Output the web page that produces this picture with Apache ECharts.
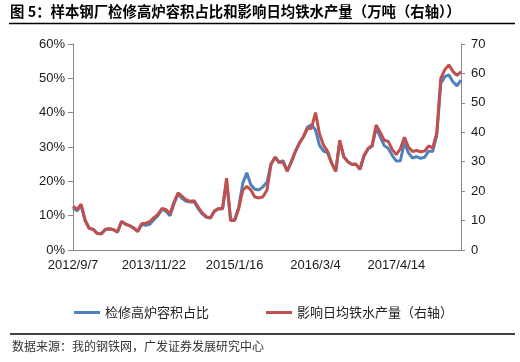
<!DOCTYPE html>
<html>
<head>
<meta charset="utf-8">
<script src="https://cdn.jsdelivr.net/npm/echarts@6/dist/echarts.min.js"></script>
<style>
html,body{margin:0;padding:0;background:#fff;}
#chart{width:520px;height:362px;}
</style>
</head>
<body>
<div id="chart"></div>
<script>
// Tick labels shown on the x axis (every 20th category)
const tickDates = ['2012/9/7', '2013/11/22', '2015/1/16', '2016/3/4', '2017/4/14'];
const pointsPerTick = 20;
const lastSegmentPoints = 17;

// 检修高炉容积占比 (%)  — left axis
const capacityShare = [
  12.2, 11.4, 13.0, 8.5, 6.3, 6.0, 4.8, 4.7, 6.0, 6.2,
  5.9, 5.2, 8.3, 7.5, 7.1, 6.4, 5.4, 7.4, 7.2, 7.5,
  8.8, 10.0, 11.8, 11.3, 10.0, 13.5, 16.4, 15.0, 14.2, 14.0,
  14.0, 12.0, 10.5, 9.5, 9.3, 11.2, 12.0, 12.0, 20.0, 8.8,
  8.8, 12.5, 19.4, 22.5, 19.0, 17.7, 17.5, 18.4, 19.8, 25.0,
  27.0, 25.5, 26.0, 23.0, 25.6, 28.6, 31.1, 33.0, 35.8, 36.5,
  35.0, 30.5, 28.8, 28.3, 25.3, 22.9, 31.5, 27.2, 25.7, 24.9,
  25.0, 23.5, 27.3, 29.4, 30.2, 35.5, 33.0, 30.4, 29.6, 27.5,
  25.9, 26.0, 31.3, 28.3, 26.8, 27.2, 26.7, 27.0, 28.8, 28.7,
  33.3, 48.5, 50.5, 51.0, 49.0, 47.8, 49.5
];

// 影响日均铁水产量 (万吨) — right axis
const ironOutput = [
  14.9, 13.7, 15.6, 10.2, 7.4, 7.0, 5.6, 5.5, 7.0, 7.2,
  6.9, 6.1, 9.7, 8.8, 8.3, 7.5, 6.3, 8.9, 9.1, 9.6,
  11.0, 12.1, 14.1, 13.8, 12.3, 16.3, 19.4, 18.2, 17.0, 16.6,
  16.7, 14.5, 12.5, 11.3, 10.9, 13.3, 14.1, 14.0, 24.4, 10.0,
  10.0, 14.0, 20.3, 21.6, 20.4, 18.0, 17.7, 18.1, 20.4, 29.2,
  31.5, 29.8, 29.8, 26.8, 29.9, 33.4, 36.3, 38.4, 41.2, 41.4,
  46.7, 39.4, 35.6, 33.5, 29.5, 26.7, 37.3, 31.7, 30.0, 29.1,
  29.2, 27.4, 32.1, 34.5, 35.5, 42.5, 40.0, 37.3, 36.9, 34.1,
  32.4, 34.4, 38.3, 35.0, 33.5, 33.8, 33.4, 33.6, 35.4, 34.7,
  39.7, 58.3, 61.3, 62.9, 60.7, 59.3, 60.6
];

const seriesNames = ['检修高炉容积占比', '影响日均铁水产量（右轴）'];

// Build category dates (weekly dates between the tick dates)
function parseD(s) { const p = s.split('/').map(Number); return new Date(p[0], p[1] - 1, p[2]); }
function fmt(d) { return d.getFullYear() + '/' + (d.getMonth() + 1) + '/' + d.getDate(); }
const categories = [];
for (let k = 0; k < tickDates.length; k++) {
  const d0 = parseD(tickDates[k]);
  if (k < tickDates.length - 1) {
    const weeks = Math.round((parseD(tickDates[k + 1]) - d0) / (7 * 86400000));
    for (let j = 0; j < pointsPerTick; j++) {
      const w = Math.round(weeks * j / pointsPerTick);
      categories.push(fmt(new Date(d0.getFullYear(), d0.getMonth(), d0.getDate() + w * 7)));
    }
  } else {
    for (let j = 0; j < lastSegmentPoints; j++) {
      categories.push(fmt(new Date(d0.getFullYear(), d0.getMonth(), d0.getDate() + j * 21)));
    }
  }
}

const chart = echarts.init(document.getElementById('chart'), null, { renderer: 'canvas' });
const axisFont = { fontFamily: 'Liberation Sans', fontSize: 13, color: '#1a1a1a' };
chart.setOption({
  backgroundColor: '#fff',
  animation: false,
  grid: { left: 73, right: 59, top: 44, bottom: 112 },
  graphic: [
    { type: 'text', left: 10, top: 4, style: { text: '图 5：样本钢厂检修高炉容积占比和影响日均铁水产量（万吨（右轴））', font: 'bold 14.4px "Noto Sans CJK SC"', fill: '#000' } },
    { type: 'line', shape: { x1: 9, y1: 23.5, x2: 515, y2: 23.5 }, style: { stroke: '#000', lineWidth: 1.5 } },
    { type: 'line', shape: { x1: 10, y1: 334, x2: 515, y2: 334 }, style: { stroke: '#000', lineWidth: 1.5 } },
    { type: 'text', left: 12, top: 340, style: { text: '数据来源：我的钢铁网，广发证券发展研究中心', font: '12px "Noto Sans CJK SC"', fill: '#333' } }
  ],
  legend: {
    left: 74, top: 306, padding: 0, itemGap: 57, itemWidth: 26, itemHeight: 3,
    icon: 'rect',
    textStyle: { fontFamily: 'Noto Sans CJK SC', fontSize: 13, color: '#222' },
    data: seriesNames
  },
  xAxis: {
    type: 'category', data: categories, boundaryGap: false,
    axisLine: { lineStyle: { color: '#8a8a8a', width: 1 } },
    axisTick: { show: false },
    axisLabel: Object.assign({ interval: pointsPerTick - 1, margin: 9, hideOverlap: false }, axisFont),
    splitLine: { show: false }
  },
  yAxis: [
    {
      type: 'value', min: 0, max: 60, interval: 10, position: 'left',
      axisLine: { show: true, lineStyle: { color: '#8a8a8a' } },
      axisTick: { show: true, length: 5, lineStyle: { color: '#8a8a8a' } },
      axisLabel: Object.assign({ formatter: '{value}%', margin: 8 }, axisFont),
      splitLine: { show: false }
    },
    {
      type: 'value', min: 0, max: 70, interval: 10, position: 'right',
      axisLine: { show: true, lineStyle: { color: '#8a8a8a' } },
      axisTick: { show: true, length: 4, lineStyle: { color: '#8a8a8a' } },
      axisLabel: Object.assign({ margin: 10 }, axisFont),
      splitLine: { show: false }
    }
  ],
  series: [
    {
      name: seriesNames[0], type: 'line', yAxisIndex: 0, data: capacityShare,
      showSymbol: false, symbol: 'none', lineStyle: { color: '#4F81BD', width: 3 }, itemStyle: { color: '#4F81BD' }, z: 2
    },
    {
      name: seriesNames[1], type: 'line', yAxisIndex: 1, data: ironOutput,
      showSymbol: false, symbol: 'none', lineStyle: { color: '#C0504D', width: 3 }, itemStyle: { color: '#C0504D' }, z: 3
    }
  ]
});
</script>
</body>
</html>
